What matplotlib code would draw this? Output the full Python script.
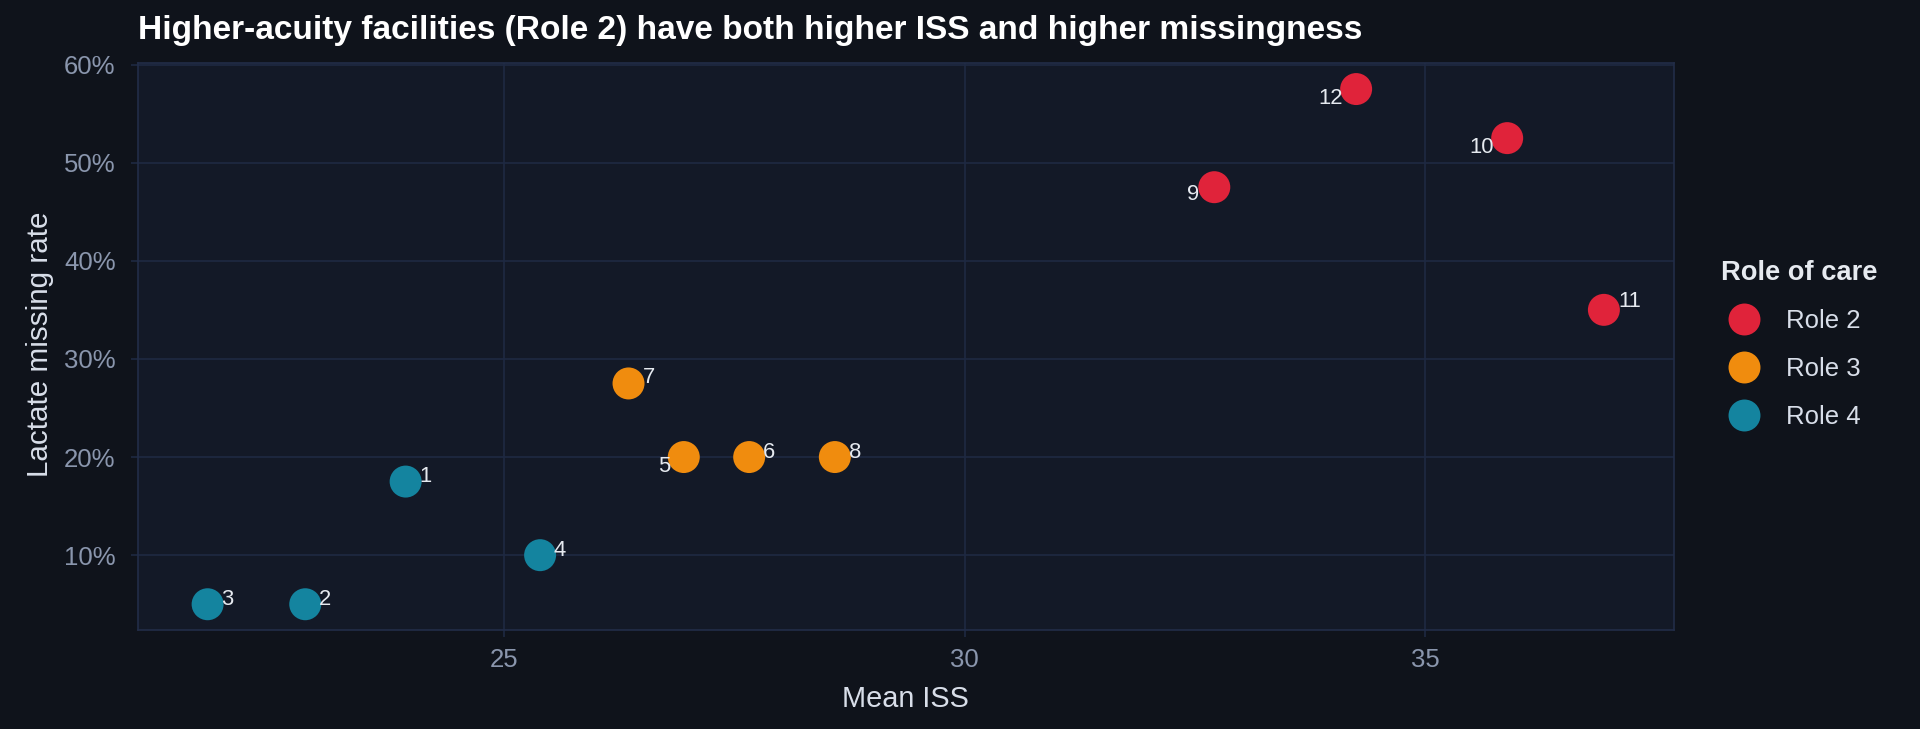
import matplotlib
matplotlib.use("Agg")
import matplotlib.pyplot as plt
from matplotlib.ticker import FuncFormatter, FixedLocator
from matplotlib.lines import Line2D

# ---- data ----
facility_ids = ["1", "2", "3", "4", "5", "6", "7", "8", "9", "10", "11", "12"]
mean_iss = [23.93, 22.84, 21.78, 25.39, 26.95, 27.66, 26.35, 28.59, 32.71, 35.89, 36.94, 34.25]
lactate_missing = [0.175, 0.05, 0.05, 0.10, 0.20, 0.20, 0.275, 0.20, 0.475, 0.525, 0.35, 0.575]
role = ["Role 4", "Role 4", "Role 4", "Role 4", "Role 3", "Role 3", "Role 3", "Role 3",
        "Role 2", "Role 2", "Role 2", "Role 2"]
role_levels = ["Role 2", "Role 3", "Role 4"]
x_ticks = [25, 30, 35]
y_ticks = [0.1, 0.2, 0.3, 0.4, 0.5, 0.6]

# ---- styles ----
colors = {"Role 2": "#E0233A", "Role 3": "#F08C0E", "Role 4": "#14849F"}
# label offsets in pixels (dx, dy)
label_offsets = {"1": (20, 5), "2": (20, 5), "3": (20, 5), "4": (20, 5), "5": (-20, -9),
                 "6": (20, 5), "7": (20, 6), "8": (20, 5), "9": (-21, -7), "10": (-26, -9),
                 "11": (26, 8), "12": (-26, -9)}

BG = "#0F131B"
PANEL = "#131927"
GRID = "#1E2942"
FONT = "Liberation Sans"

W, H = 1920, 729
fig = plt.figure(figsize=(W / 100, H / 100), dpi=100, facecolor=BG)
L, R, T, B = 137.8, 1673.7, 63.3, 630.0
ax = fig.add_axes([L / W, 1 - B / H, (R - L) / W, (B - T) / H])
ax.set_facecolor(PANEL)

for r in role_levels:
    xs = [x for x, rr in zip(mean_iss, role) if rr == r]
    ys = [y for y, rr in zip(lactate_missing, role) if rr == r]
    ax.scatter(xs, ys, s=530, color=colors[r], edgecolors="none", zorder=3, label=r)

for fid, x, y in zip(facility_ids, mean_iss, lactate_missing):
    dx, dy = label_offsets[fid]
    ax.annotate(fid, (x, y), xytext=(dx, dy), textcoords="offset pixels",
                ha="center", va="center", color="#E6EAF0", fontsize=15.8,
                family=FONT, zorder=4)

xr = max(mean_iss) - min(mean_iss)
yr = max(lactate_missing) - min(lactate_missing)
ax.set_xlim(min(mean_iss) - 0.05 * xr, max(mean_iss) + 0.05 * xr)
ax.set_ylim(min(lactate_missing) - 0.05 * yr, max(lactate_missing) + 0.05 * yr)

ax.xaxis.set_major_locator(FixedLocator(x_ticks))
ax.yaxis.set_major_locator(FixedLocator(y_ticks))
ax.yaxis.set_major_formatter(FuncFormatter(lambda v, p: f"{v*100:.0f}%"))
ax.grid(True, color=GRID, linewidth=1.2, zorder=0)
ax.set_axisbelow(True)
for sp in ax.spines.values():
    sp.set_color("#222D48")
    sp.set_linewidth(1.2)
ax.tick_params(axis="both", colors=GRID, length=5, width=1.2, labelsize=18.5,
               labelcolor="#8A96AD")
ax.tick_params(axis="y", pad=11)
ax.tick_params(axis="x", pad=8)
for lab in ax.get_xticklabels() + ax.get_yticklabels():
    lab.set_family(FONT)

fig.text(138 / W, 1 - 39 / H, "Higher-acuity facilities (Role 2) have both higher ISS and higher missingness",
         ha="left", va="baseline", color="#FFFFFF", fontsize=24.1, fontweight="bold", family=FONT)
fig.text((L + R) / 2 / W, 1 - 707 / H, "Mean ISS", ha="center", va="baseline",
         color="#D8DEE9", fontsize=20.8, family=FONT)
fig.text(40 / W, 1 - 344 / H, "Lactate missing rate", ha="center", va="center",
         rotation=90, color="#D8DEE9", fontsize=21.3, family=FONT)

handles = [Line2D([0], [0], marker="o", linestyle="none", markersize=23,
                  markerfacecolor=colors[r], markeredgecolor="none") for r in role_levels]
leg = fig.legend(handles, role_levels, title="Role of care", loc="upper left",
                 bbox_to_anchor=(1700 / W, 1 - 239 / H), frameon=False,
                 prop={"family": FONT, "size": 18.5}, handlelength=1.8,
                 handletextpad=0.75, labelspacing=0.93, borderpad=0.3)
leg.get_title().set_color("#E6EAF0")
leg.get_title().set_fontweight("bold")
leg.get_title().set_family(FONT)
leg.get_title().set_fontsize(19.6)
leg._legend_box.align = "left"
for t in leg.get_texts():
    t.set_color("#D8DEE9")

fig.savefig("out.png", dpi=100, facecolor=BG)
